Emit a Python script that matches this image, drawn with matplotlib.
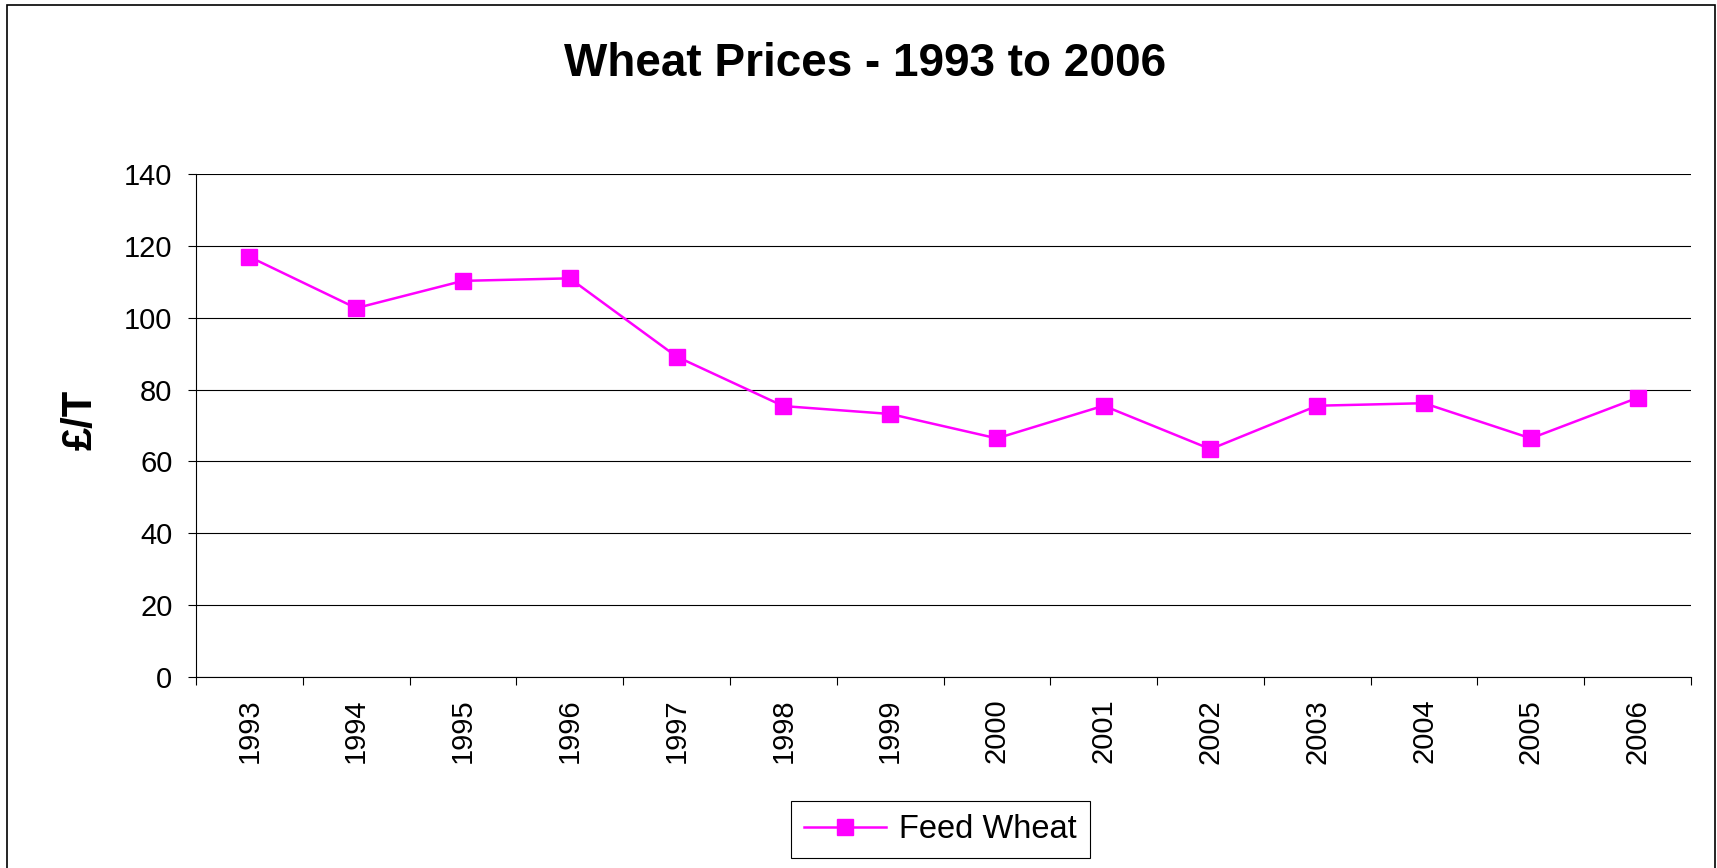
import matplotlib.pyplot as plt
from matplotlib.patches import Rectangle

years = ['1993', '1994', '1995', '1996', '1997', '1998', '1999',
         '2000', '2001', '2002', '2003', '2004', '2005', '2006']
feed_wheat = [117.0, 102.7, 110.3, 111.0, 89.2, 75.4, 73.2,
              66.4, 75.5, 63.4, 75.5, 76.2, 66.4, 77.7]
y_ticks = [0, 20, 40, 60, 80, 100, 120, 140]

plt.rcParams['font.family'] = ['Liberation Sans', 'DejaVu Sans']

fig = plt.figure(figsize=(17.17, 8.68), dpi=100)
ax = fig.add_axes([196 / 1717, 0.2205, (1691 - 196) / 1717, 0.7992 - 0.2205])

x = list(range(len(years)))
line, = ax.plot(x, feed_wheat, color='#FF00FF', lw=1.8, marker='s',
                markersize=12, markeredgecolor='#FF00FF', label='Feed Wheat')

ax.set_xlim(-0.5, len(years) - 0.5)
ax.set_ylim(0, 140)
ax.set_yticks(y_ticks)
ax.set_xticks(x)
ax.set_xticklabels(years, rotation=90, fontsize=21)
ax.set_xticks([i - 0.5 for i in range(len(years) + 1)], minor=True)
ax.tick_params(axis='x', which='major', length=0, pad=16)
ax.tick_params(axis='x', which='minor', length=6, width=0.8, direction='out')
ax.tick_params(axis='y', length=6, width=0.8, pad=11, labelsize=21)

ax.yaxis.grid(True, color='black', lw=0.8)
ax.set_axisbelow(True)
for s in ['top', 'right']:
    ax.spines[s].set_visible(False)
for s in ['left', 'bottom']:
    ax.spines[s].set_linewidth(0.8)

fig.text(0.504, 1 - 64 / 868, 'Wheat Prices - 1993 to 2006', ha='center',
         va='center', fontsize=33, fontweight='bold')
fig.text(81 / 1717, 1 - 420 / 868, '£/T', rotation=90, ha='center',
         va='center', fontsize=30, fontweight='bold')

leg = fig.legend(handles=[line], loc='center', bbox_to_anchor=(0.5477, 0.0444),
                 fontsize=23.5, fancybox=False, framealpha=1, edgecolor='black',
                 handlelength=2.5, borderpad=0.4, handletextpad=0.4)
leg.get_frame().set_linewidth(0.8)

# outer chart border (runs off the bottom of the image)
fig.add_artist(Rectangle((7 / 1717, -0.05), (1715 - 7) / 1717, 1.05 - 5 / 868,
                         transform=fig.transFigure, fill=False, ec='black', lw=1.2))

fig.savefig('out.png', dpi=100)
